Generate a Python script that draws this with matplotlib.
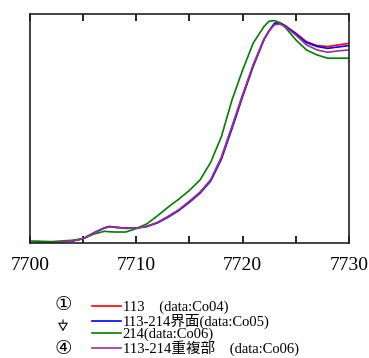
import matplotlib
matplotlib.use('Agg')
import matplotlib.pyplot as plt

# energy (eV) and normalized absorbance
energy = [7700, 7702, 7704, 7705, 7706, 7707, 7707.5, 7708, 7709, 7710, 7711,
          7712, 7713, 7714, 7715, 7716, 7717, 7718, 7719, 7720, 7721, 7722,
          7722.5, 7723, 7723.5, 7724, 7725, 7726, 7727, 7728, 7729, 7730]

co04 = [-0.003, 0.001, 0.009, 0.019, 0.044, 0.066, 0.072, 0.069, 0.064, 0.065, 0.073,
        0.090, 0.116, 0.145, 0.182, 0.222, 0.276, 0.374, 0.509, 0.647, 0.778, 0.890,
        0.927, 0.959, 0.959, 0.948, 0.916, 0.879, 0.862, 0.858, 0.865, 0.872]
co05 = [-0.003, 0.001, 0.009, 0.019, 0.044, 0.066, 0.072, 0.069, 0.065, 0.065, 0.072,
        0.088, 0.113, 0.142, 0.178, 0.218, 0.271, 0.366, 0.500, 0.640, 0.772, 0.887,
        0.928, 0.959, 0.962, 0.949, 0.913, 0.875, 0.858, 0.850, 0.856, 0.862]
co06 = [0.009, 0.006, 0.012, 0.019, 0.039, 0.051, 0.049, 0.048, 0.048, 0.063, 0.084,
        0.119, 0.157, 0.192, 0.230, 0.276, 0.353, 0.465, 0.625, 0.756, 0.874, 0.945,
        0.969, 0.971, 0.962, 0.942, 0.887, 0.843, 0.821, 0.807, 0.807, 0.807]
co06_overlap = [-0.003, 0.001, 0.009, 0.019, 0.044, 0.065, 0.071, 0.068, 0.064, 0.065, 0.073,
                0.090, 0.116, 0.145, 0.182, 0.222, 0.276, 0.374, 0.509, 0.647, 0.778, 0.890,
                0.927, 0.953, 0.956, 0.945, 0.908, 0.865, 0.843, 0.833, 0.839, 0.843]

labels = ['113\u3000(data:Co04)', '113-214界面(data:Co05)',
          '214(data:Co06)', '113-214重複部\u3000(data:Co06)']
colors = ['#ff0000', '#0000ff', '#008000', '#993399']
series = [co04, co05, co06, co06_overlap]

fig = plt.figure(figsize=(3.69, 3.58), dpi=100)
ax = fig.add_axes([30 / 369, 1 - 243 / 358, 319 / 369, 229 / 358])

lines = []
for ys, c, lab in zip(series, colors, labels):
    ln, = ax.plot(energy, ys, color=c, lw=1.2, label=lab)
    lines.append(ln)

ax.set_xlim(7700, 7730)
ax.set_ylim(0, 1)
ax.set_xticks([7700, 7705, 7710, 7715, 7720, 7725, 7730])
ax.set_xticklabels(['7700', '', '7710', '', '7720', '', '7730'])
ax.set_yticks([])
ax.tick_params(axis='x', direction='in', length=5, width=1.2, top=True,
               labelsize=14, pad=10)
for lbl in ax.get_xticklabels():
    lbl.set_family('Liberation Serif')
for s in ax.spines.values():
    s.set_linewidth(1.2)
    s.set_color('#222222')

fig.legend(lines, labels, loc='upper left', bbox_to_anchor=(92 / 369, 1 - 301 / 358),
           frameon=False, handlelength=2.0, handletextpad=0.1, labelspacing=-0.06,
           borderpad=0, borderaxespad=0,
           prop={'family': ['Liberation Serif', 'Noto Sans CJK JP'], 'size': 10.5})

# process order marks beside the legend
fig.text(63 / 369, 1 - 305 / 358, '\u2460', ha='center', va='center',
         fontsize=14, family='DejaVu Sans')
fig.text(63 / 369, 1 - 349 / 358, '\u2463', ha='center', va='center',
         fontsize=14, family='DejaVu Sans')
fig.add_artist(plt.matplotlib.patches.FancyArrowPatch(
    (63 / 369, 1 - 317 / 358), (63 / 369, 1 - 334 / 358),
    transform=fig.transFigure, arrowstyle='-|>,head_width=3,head_length=5',
    facecolor='white', edgecolor='black', lw=0.8, mutation_scale=1))

fig.savefig('out.png', dpi=100)
